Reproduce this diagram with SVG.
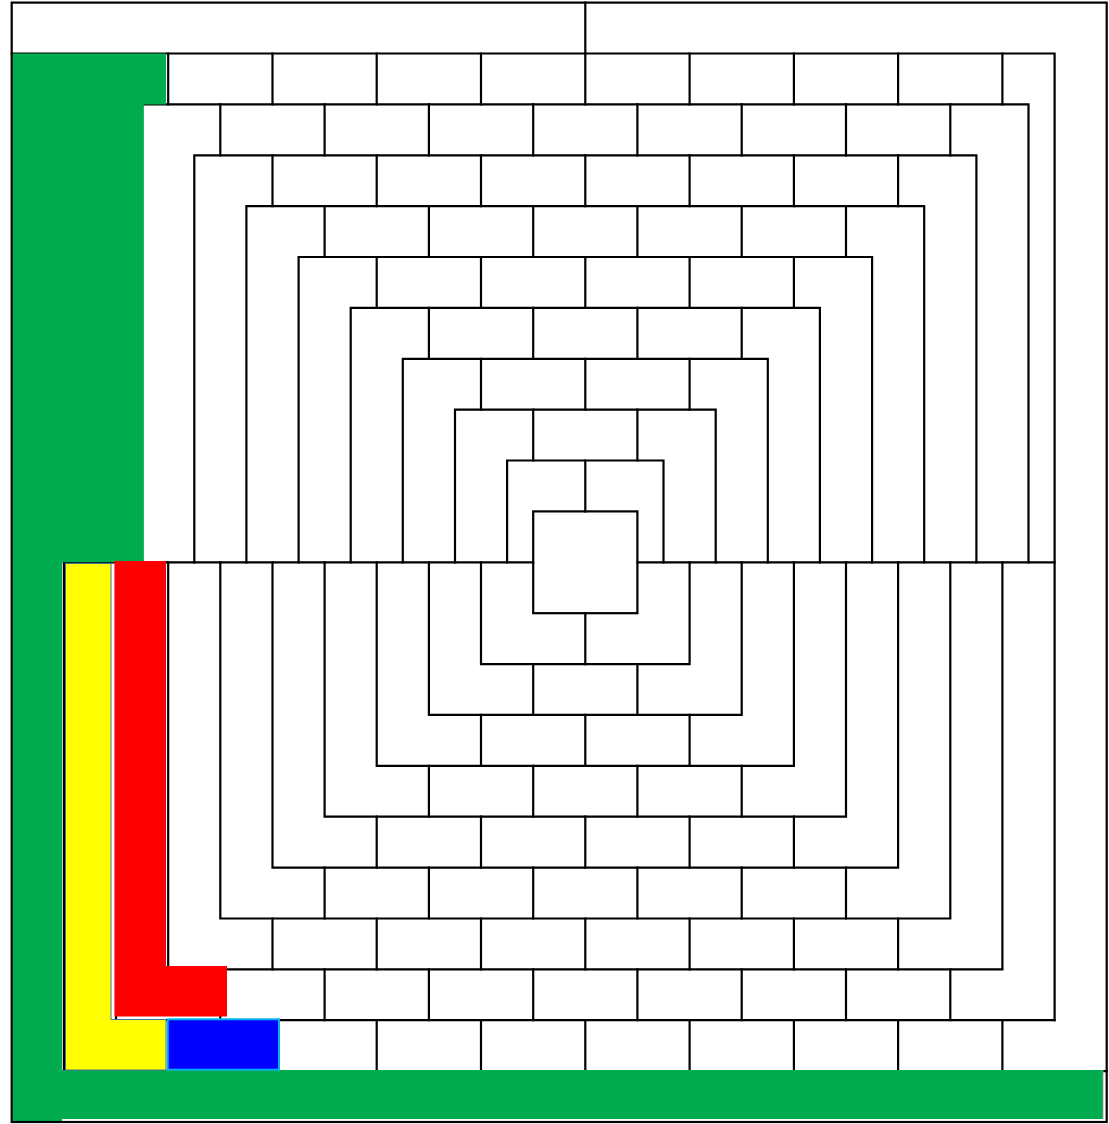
<svg xmlns="http://www.w3.org/2000/svg" width="1109" height="1124" viewBox="0 0 1109 1124">
<style>
.ln{fill:none;stroke:#000;stroke-width:2.2;stroke-linecap:square;stroke-linejoin:miter}
</style>
<rect x="0" y="0" width="1109" height="1124" fill="#fff"/>
<g id="top-half" class="ln">
<path d="M585.3,2.6V53.5M11.7,53.5H1054.6V1020.2"/>
<rect x="533.2" y="511.4" width="104.2" height="101.8"/>
<path d="M507.1,562.3V460.5H663.5V562.3M455,562.3V409.7H715.7V562.3M402.8,562.3V358.8H767.8V562.3M350.7,562.3V307.9H819.9V562.3M298.6,562.3V257H872.1V562.3M246.4,562.3V206.1H924.2V562.3M194.3,562.3V155.3H976.4V562.3M142.1,562.3V104.4H1028.5V562.3"/>
<path d="M63.9,562.3H533.2M637.4,562.3H1054.6"/>
<path d="M585.3,460.5V511.4
M533.2,409.7V460.5M637.4,409.7V460.5
M481,358.8V409.7M585.3,358.8V409.7M689.6,358.8V409.7
M428.9,307.9V358.8M533.2,307.9V358.8M637.4,307.9V358.8M741.7,307.9V358.8
M376.7,257V307.9M481,257V307.9M585.3,257V307.9M689.6,257V307.9M793.9,257V307.9
M324.6,206.1V257M428.9,206.1V257M533.2,206.1V257M637.4,206.1V257M741.7,206.1V257M846,206.1V257
M272.5,155.3V206.1M376.7,155.3V206.1M481,155.3V206.1M585.3,155.3V206.1M689.6,155.3V206.1M793.9,155.3V206.1M898.1,155.3V206.1
M220.3,104.4V155.3M324.6,104.4V155.3M428.9,104.4V155.3M533.2,104.4V155.3M637.4,104.4V155.3M741.7,104.4V155.3M846,104.4V155.3M950.3,104.4V155.3
M168.2,53.5V104.4M272.5,53.5V104.4M376.7,53.5V104.4M481,53.5V104.4M585.3,53.5V104.4M689.6,53.5V104.4M793.9,53.5V104.4M898.1,53.5V104.4M1002.4,53.5V104.4"/>
</g>
<g id="bottom-half" class="ln">
<path d="M481,562.3V664.1H689.6V562.3M428.9,562.3V714.9H741.7V562.3M376.7,562.3V765.8H793.9V562.3M324.6,562.3V816.7H846V562.3M272.5,562.3V867.6H898.1V562.3M220.3,562.3V918.5H950.3V562.3M168.2,562.3V969.3H1002.4V562.3M116,562.3V1020.2H1054.6M63.9,562.3V1071.1H1106.7"/>
<path d="M585.3,613.2V664.1
M533.2,664.1V714.9M637.4,664.1V714.9
M481,714.9V765.8M585.3,714.9V765.8M689.6,714.9V765.8
M428.9,765.8V816.7M533.2,765.8V816.7M637.4,765.8V816.7M741.7,765.8V816.7
M376.7,816.7V867.6M481,816.7V867.6M585.3,816.7V867.6M689.6,816.7V867.6M793.9,816.7V867.6
M324.6,867.6V918.5M428.9,867.6V918.5M533.2,867.6V918.5M637.4,867.6V918.5M741.7,867.6V918.5M846,867.6V918.5
M272.5,918.5V969.3M376.7,918.5V969.3M481,918.5V969.3M585.3,918.5V969.3M689.6,918.5V969.3M793.9,918.5V969.3M898.1,918.5V969.3
M220.3,969.3V1020.2M324.6,969.3V1020.2M428.9,969.3V1020.2M533.2,969.3V1020.2M637.4,969.3V1020.2M741.7,969.3V1020.2M846,969.3V1020.2M950.3,969.3V1020.2
M168.2,1020.2V1071.1M272.5,1020.2V1071.1M376.7,1020.2V1071.1M481,1020.2V1071.1M585.3,1020.2V1071.1M689.6,1020.2V1071.1M793.9,1020.2V1071.1M898.1,1020.2V1071.1M1002.4,1020.2V1071.1"/>
</g>
<g id="green-piece">
<path d="M12.5,53.5H166V104.4H143.8V562.3H62V1070H1103V1119H62V1121.5H12.5Z" fill="#00AC4E"/>
<line x1="1103" y1="1070" x2="1103" y2="1119" stroke="#999" stroke-width="0.8"/>
</g>
<g id="yellow-piece">
<path d="M65.5,563.5H111V1019.5H166V1070H65.5Z" fill="#FFFF00" stroke="#4a6fa0" stroke-width="1"/>
</g>
<g id="red-piece">
<path d="M114.5,561H166V966H227V1016.5H114.5Z" fill="#FF0000"/>
</g>
<g id="blue-piece">
<rect x="167.7" y="1019.3" width="111.3" height="50.4" fill="#0000FF" stroke="#00B0F0" stroke-width="2"/>
</g>
<g id="border">
<rect x="11.7" y="2.6" width="1095" height="1119.4" fill="none" stroke="#000" stroke-width="2.2"/>
</g>
</svg>
